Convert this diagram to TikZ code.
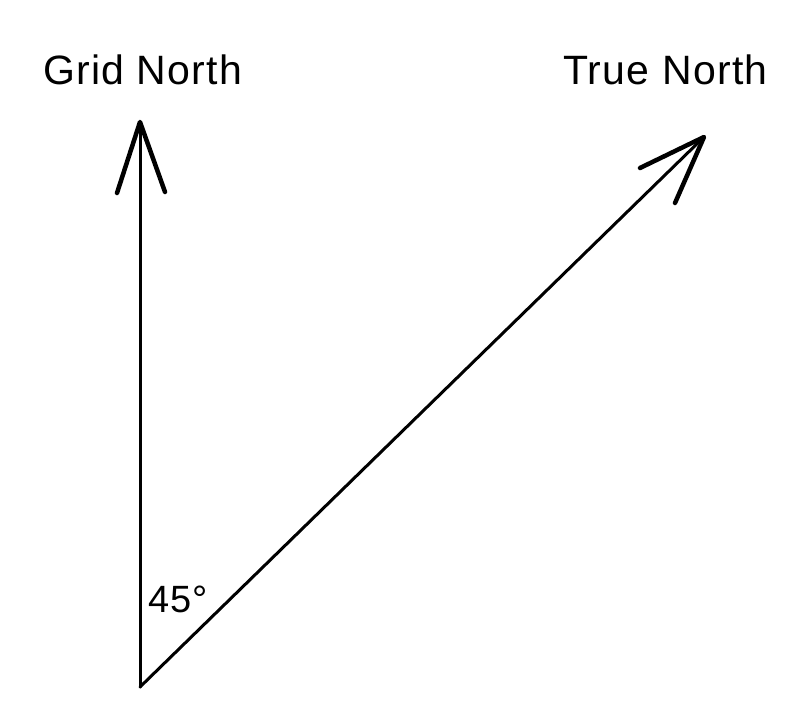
\documentclass[tikz,border=0pt]{standalone}
\usepackage{fontspec}
\setmainfont{Liberation Sans}
\begin{document}
\begin{tikzpicture}[x=1pt,y=1pt,
  shaft/.style={line width=3pt,line cap=round},
  barb/.style={line width=4.5pt,line cap=round,line join=round},
  lbl/.style={inner sep=0pt,anchor=base west,font=\fontsize{41}{45}\selectfont\addfontfeature{LetterSpace=3}}]
\useasboundingbox (0,0) rectangle (797,715);
\coordinate (O) at (140,28);
\coordinate (G) at (140,593);
\coordinate (Ga) at (117,522);
\coordinate (Gb) at (165,523);
\coordinate (T) at (704,578);
\coordinate (Ta) at (640,547);
\coordinate (Tb) at (675,512);
\draw[shaft] (O) -- (G);
\draw[shaft] (O) -- (T);
\draw[barb] (Ga) -- (G) -- (Gb);
\draw[barb] (Ta) -- (T) -- (Tb);
\node[lbl] (gn) at (43,630) {Grid North};
\node[lbl] (tn) at (563,630) {True North};
\node[lbl,font=\fontsize{38}{42}\selectfont\addfontfeature{LetterSpace=3}] (ang) at (148,103) {45°};
\end{tikzpicture}
\end{document}
